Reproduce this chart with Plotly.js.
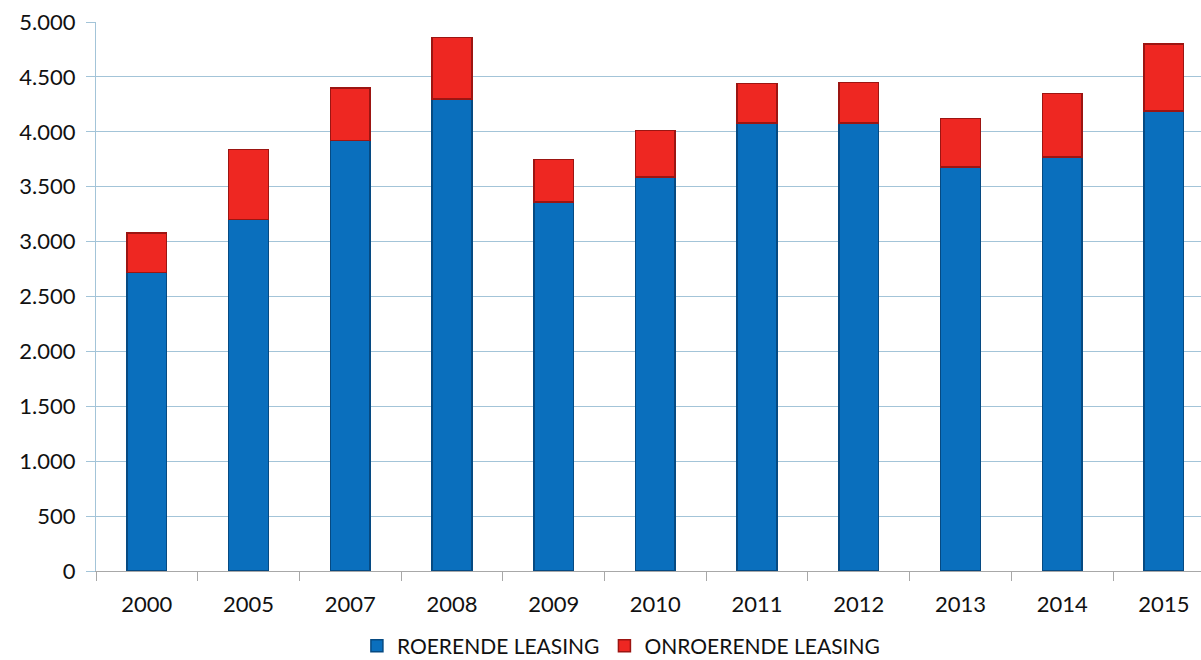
<!DOCTYPE html>
<html>
<head>
<meta charset="utf-8">
<script src="https://cdn.plot.ly/plotly-3.0.1.min.js"></script>
<style>html,body{margin:0;padding:0;background:#fff;}#chart{width:1201px;height:660px;}</style>
</head>
<body>
<div id="chart"></div>
<script>
var years = ['2000','2005','2007','2008','2009','2010','2011','2012','2013','2014','2015'];
var roerende = [2720, 3200, 3920, 4300, 3360, 3590, 4080, 4080, 3680, 3770, 4190];
var onroerende = [360, 640, 480, 560, 390, 420, 360, 370, 440, 580, 610];
var yTicks = [0, 500, 1000, 1500, 2000, 2500, 3000, 3500, 4000, 4500, 5000];

var traces = [
  {
    type: 'bar', name: 'ROERENDE LEASING', x: years, y: roerende,
    width: 0.39,
    marker: {color: '#0a6fbd', line: {color: '#064a82', width: 1.5}}
  },
  {
    type: 'bar', name: 'ONROERENDE LEASING', x: years, y: onroerende,
    width: 0.39,
    marker: {color: '#ee2722', line: {color: '#9c1512', width: 1.5}}
  }
];

var layout = {
  width: 1201, height: 660,
  barmode: 'stack',
  separators: ',.',
  paper_bgcolor: '#ffffff', plot_bgcolor: '#ffffff',
  margin: {l: 96, r: 0, t: 22, b: 89, pad: 0, autoexpand: false},
  font: {family: 'Lato, Open Sans, sans-serif', size: 22, color: '#111111'},
  showlegend: true,
  legend: {
    orientation: 'h', xref: 'container', x: 0.517, xanchor: 'center',
    yref: 'container', y: 0.021, yanchor: 'middle',
    font: {size: 21, color: '#111111'}, traceorder: 'normal'
  },
  xaxis: {
    type: 'category', range: [-0.5, 10.365],
    showgrid: false, showline: true, linecolor: '#a8a8a8', linewidth: 1,
    ticks: 'outside', tickson: 'boundaries', ticklen: 9, tickcolor: '#a8a8a8',
    ticklabelstandoff: 14,
    tickfont: {size: 22, color: '#111111'}, zeroline: false
  },
  yaxis: {
    range: [0, 5000], tickvals: yTicks, tickformat: ',d',
    showgrid: true, gridcolor: '#a3c4d8', gridwidth: 1,
    showline: true, linecolor: '#a3c4d8', linewidth: 1,
    ticks: 'outside', ticklen: 9, tickcolor: '#a3c4d8',
    ticklabelstandoff: 6,
    tickfont: {size: 22, color: '#111111'}, zeroline: false
  }
};

Plotly.newPlot('chart', traces, layout, {displayModeBar: false, staticPlot: true});
</script>
</body>
</html>
